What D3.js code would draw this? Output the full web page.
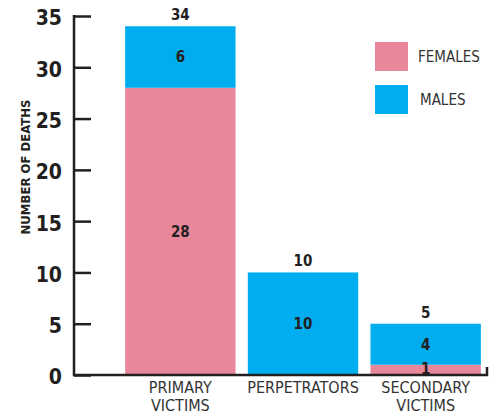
<!DOCTYPE html>
<html>
<head>
<meta charset="utf-8">
<script src="https://cdn.jsdelivr.net/npm/d3@7"></script>
<style>
  body { margin: 0; background: #fff; }
  text { font-family: "Liberation Sans Narrow", "DejaVu Sans Condensed", sans-serif; font-stretch: condensed; fill: #231f20; }
</style>
</head>
<body>
<svg id="main" width="501" height="419"></svg>
<script>
// data
var categories = ["PRIMARY VICTIMS", "PERPETRATORS", "SECONDARY VICTIMS"];
var categoryLines = [["PRIMARY", "VICTIMS"], ["PERPETRATORS"], ["SECONDARY", "VICTIMS"]];
var females = [28, 0, 1];
var males = [6, 10, 4];
var yTicks = [0, 5, 10, 15, 20, 25, 30, 35];
var seriesNames = ["FEMALES", "MALES"];
var seriesColors = ["#e8879a", "#00adee"];

var svg = d3.select("#main");

var y = d3.scaleLinear().domain([0, 35]).range([375, 16]);
var x = d3.scaleBand().domain(categories).range([119, 487]).paddingInner(0.1).paddingOuter(0.05);

// stacked bars
var rows = categories.map(function(c, i) { return {cat: c, FEMALES: females[i], MALES: males[i]}; });
var stack = d3.stack().keys(seriesNames)(rows);

stack.forEach(function(layer, li) {
  svg.append("g").selectAll("rect")
    .data(layer)
    .enter().append("rect")
    .attr("x", function(d) { return x(d.data.cat); })
    .attr("width", x.bandwidth())
    .attr("y", function(d) { return y(d[1]); })
    .attr("height", function(d) { return y(d[0]) - y(d[1]); })
    .style("fill", seriesColors[li]);
});

// axes
var axisColor = "#231f20";
var yAxis = svg.append("g").attr("transform", "translate(74,0)")
  .call(d3.axisRight(y).tickValues(yTicks).tickSize(17).tickFormat(""));
yAxis.select(".domain").remove();
yAxis.selectAll("line").style("stroke", axisColor).style("stroke-width", 2.5);

svg.append("line")
  .attr("x1", 74).attr("x2", 74).attr("y1", y(35) - 1).attr("y2", y(0) + 1.25)
  .style("stroke", axisColor).style("stroke-width", 2.5);
svg.append("path")
  .attr("d", "M74," + y(0) + "H487V" + (y(0) - 8))
  .style("fill", "none").style("stroke", axisColor).style("stroke-width", 2.5);

// tick labels
svg.append("g").selectAll("text")
  .data(yTicks)
  .enter().append("text")
  .attr("x", 62)
  .attr("y", function(d) { return y(d); })
  .attr("dy", "0.45em")
  .attr("text-anchor", "end")
  .style("font-size", "21px")
  .style("font-weight", "bold")
  .text(function(d) { return d; });

svg.append("text")
  .attr("transform", "translate(30,167) rotate(-90)")
  .attr("text-anchor", "middle")
  .style("font-size", "13px")
  .style("font-weight", "bold")
  .text("NUMBER OF DEATHS");

// category labels
categoryLines.forEach(function(lines, i) {
  var t = svg.append("text")
    .attr("x", x(categories[i]) + x.bandwidth() / 2)
    .attr("y", 393)
    .attr("text-anchor", "middle")
    .style("font-size", "16px")
    .style("fill", "#333");
  lines.forEach(function(l, j) {
    t.append("tspan")
      .attr("x", x(categories[i]) + x.bandwidth() / 2)
      .attr("dy", j === 0 ? 0 : 18)
      .text(l);
  });
});

// value labels
var labelStyle = function(sel) {
  sel.attr("text-anchor", "middle").style("font-size", "15px").style("font-weight", "bold");
};
stack.forEach(function(layer) {
  svg.append("g").selectAll("text")
    .data(layer.filter(function(d) { return d[1] - d[0] > 0; }))
    .enter().append("text")
    .attr("x", function(d) { return x(d.data.cat) + x.bandwidth() / 2; })
    .attr("y", function(d) { return Math.min((y(d[0]) + y(d[1])) / 2, y(0) - 6); })
    .attr("dy", "0.36em")
    .call(labelStyle)
    .text(function(d) { return d[1] - d[0]; });
});
svg.append("g").selectAll("text")
  .data(rows)
  .enter().append("text")
  .attr("x", function(d) { return x(d.cat) + x.bandwidth() / 2; })
  .attr("y", function(d) { return y(d.FEMALES + d.MALES) - 6; })
  .call(labelStyle)
  .text(function(d) { return d.FEMALES + d.MALES; });

// legend
var legend = svg.append("g").selectAll("g")
  .data(seriesNames)
  .enter().append("g")
  .attr("transform", function(d, i) { return "translate(375," + (42 + i * 43) + ")"; });
legend.append("rect")
  .attr("width", 33).attr("height", 29)
  .style("fill", function(d, i) { return seriesColors[i]; });
legend.append("text")
  .attr("x", function(d, i) { return i === 0 ? 43 : 45; })
  .attr("y", 15)
  .attr("dy", "0.36em")
  .style("font-size", "15px")
  .style("fill", "#333")
  .text(function(d) { return d; });
</script>
</body>
</html>
